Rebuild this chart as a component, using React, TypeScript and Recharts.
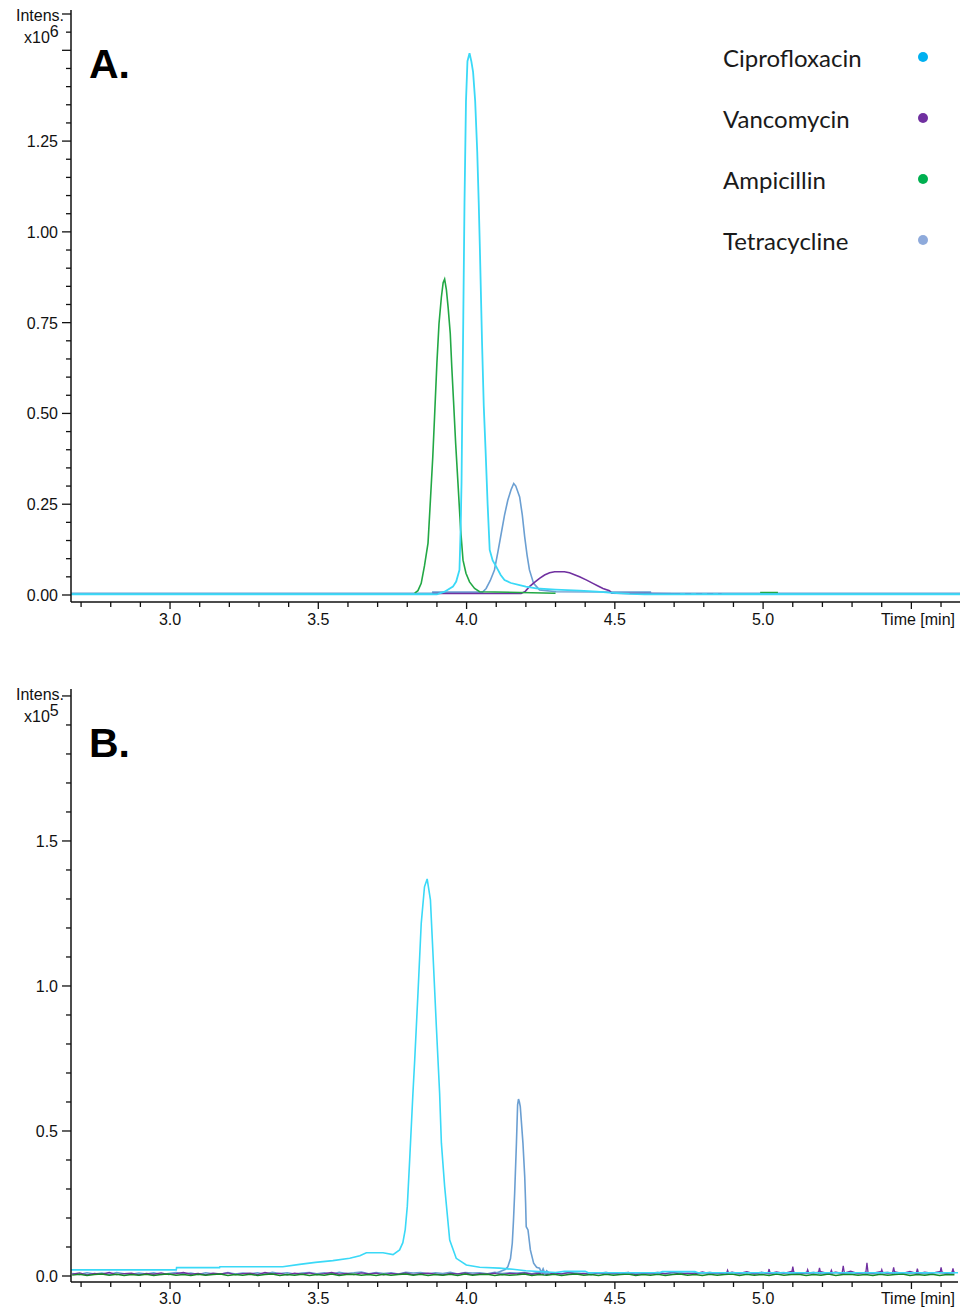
import React from 'react';
import { LineChart, Line, XAxis, YAxis, Legend } from 'recharts';

// ---------- tick values ----------
const xTicks = [2.7, 2.8, 2.9, 3.0, 3.1, 3.2, 3.3, 3.4, 3.5, 3.6, 3.7, 3.8, 3.9, 4.0, 4.1, 4.2, 4.3, 4.4, 4.5, 4.6, 4.7, 4.8, 4.9, 5.0, 5.1, 5.2, 5.3, 5.4, 5.5, 5.6];
const yTicksA = [0, 0.05, 0.1, 0.15, 0.2, 0.25, 0.3, 0.35, 0.4, 0.45, 0.5, 0.55, 0.6, 0.65, 0.7, 0.75, 0.8, 0.85, 0.9, 0.95, 1.0, 1.05, 1.1, 1.15, 1.2, 1.25, 1.3, 1.35, 1.4, 1.45, 1.5, 1.55, 1.6];
const yTicksB = [0, 0.1, 0.2, 0.3, 0.4, 0.5, 0.6, 0.7, 0.8, 0.9, 1.0, 1.1, 1.2, 1.3, 1.4, 1.5, 1.6, 1.7, 1.8, 1.9, 2.0];

// ---------- legend ----------
const legendNames = ['Ciprofloxacin', 'Vancomycin', 'Ampicillin', 'Tetracycline'];
const legendDotColors = ['#00b0f0', '#7030a0', '#00b050', '#8eaadb'];

// ---------- line colours ----------
const CIPRO = '#3ad9f7';
const VANCO = '#7030a0';
const AMPI = '#22a845';
const AMPI_DARK = '#168a26';
const TETRA = '#6b9fd2';

// ---------- Panel A (x10^6) : [time, intensity] ----------
const ciproA: [number, number][] = [
  [2.666, 0.002], [3.9, 0.002], [3.926, 0.009], [3.954, 0.023], [3.965, 0.037], [3.976, 0.069],
  [3.98, 0.18], [3.983, 0.31], [3.986, 0.55], [3.989, 0.77], [3.993, 1.08], [3.998, 1.36],
  [4.003, 1.47], [4.01, 1.492], [4.016, 1.47], [4.022, 1.44], [4.029, 1.36], [4.036, 1.22],
  [4.041, 1.08], [4.045, 0.95], [4.052, 0.7], [4.058, 0.52], [4.064, 0.4], [4.071, 0.25],
  [4.078, 0.124], [4.088, 0.095], [4.1, 0.078], [4.115, 0.055], [4.128, 0.041], [4.15, 0.033],
  [4.179, 0.027], [4.2, 0.023], [4.235, 0.018], [4.3, 0.015], [4.381, 0.012], [4.44, 0.009],
  [4.492, 0.006], [4.55, 0.003], [4.6, 0.002], [5.664, 0.002],
];
const tetraA: [number, number][] = [
  [2.666, 0.005], [3.885, 0.005], [3.886, 0.008], [4.054, 0.008], [4.066, 0.018], [4.08, 0.04],
  [4.094, 0.069], [4.106, 0.12], [4.117, 0.17], [4.128, 0.22], [4.139, 0.261], [4.15, 0.29],
  [4.159, 0.307], [4.166, 0.3], [4.179, 0.27], [4.188, 0.22], [4.196, 0.16], [4.204, 0.11],
  [4.212, 0.069], [4.226, 0.032], [4.246, 0.014], [4.302, 0.009], [4.62, 0.008], [4.621, 0.005],
  [5.664, 0.005],
];
const vancoA: [number, number][] = [
  [3.885, 0.004], [4.184, 0.004], [4.198, 0.01], [4.212, 0.023], [4.229, 0.035], [4.246, 0.046],
  [4.263, 0.055], [4.28, 0.061], [4.297, 0.064], [4.33, 0.064], [4.347, 0.061], [4.364, 0.056],
  [4.381, 0.05], [4.405, 0.041], [4.426, 0.032], [4.445, 0.024], [4.46, 0.018], [4.482, 0.012],
  [4.49, 0.005], [4.7, 0.003],
];
const vancoTailA: [number, number][] = [[4.7, 0.003], [4.86, 0.003]];
const ampiA: [number, number | null][] = [
  [3.825, 0.005], [3.836, 0.012], [3.847, 0.032], [3.858, 0.08], [3.87, 0.143], [3.878, 0.26],
  [3.886, 0.38], [3.892, 0.49], [3.9, 0.64], [3.907, 0.747], [3.915, 0.82], [3.921, 0.86],
  [3.926, 0.87], [3.932, 0.84], [3.938, 0.79], [3.945, 0.72], [3.95, 0.63], [3.956, 0.535],
  [3.963, 0.42], [3.971, 0.308], [3.98, 0.18], [3.988, 0.096], [3.998, 0.06], [4.01, 0.036],
  [4.027, 0.018], [4.044, 0.009], [4.3, 0.005], [4.31, null], [4.99, 0.007], [5.05, 0.007],
];

// ---------- Panel B (x10^5) ----------
const ciproB: [number, number][] = [
  [2.666, 0.021], [3.021, 0.021], [3.022, 0.029], [3.167, 0.029], [3.168, 0.032], [3.38, 0.032],
  [3.437, 0.04], [3.49, 0.047], [3.549, 0.053], [3.606, 0.061], [3.64, 0.07], [3.662, 0.08],
  [3.718, 0.08], [3.752, 0.074], [3.774, 0.09], [3.785, 0.115], [3.793, 0.16], [3.8, 0.24],
  [3.808, 0.4], [3.819, 0.63], [3.825, 0.745], [3.836, 0.975], [3.847, 1.216], [3.858, 1.342],
  [3.867, 1.369], [3.878, 1.297], [3.886, 1.124], [3.898, 0.86], [3.909, 0.63], [3.915, 0.458],
  [3.926, 0.308], [3.943, 0.124], [3.965, 0.061], [3.999, 0.038], [4.044, 0.03], [4.111, 0.027],
  [4.156, 0.023], [4.2, 0.018], [4.3, 0.012], [4.33, 0.016], [4.4, 0.016], [4.41, 0.011],
  [4.65, 0.011], [4.66, 0.015], [4.77, 0.015], [4.78, 0.011], [5.664, 0.011],
];
const tetraPeakB: [number, number][] = [
  [4.1, 0.01], [4.111, 0.015], [4.13, 0.022], [4.139, 0.032], [4.148, 0.06], [4.154, 0.113],
  [4.158, 0.19], [4.162, 0.285], [4.168, 0.458], [4.172, 0.59], [4.175, 0.61], [4.178, 0.6],
  [4.181, 0.584], [4.19, 0.458], [4.196, 0.342], [4.199, 0.25], [4.201, 0.17], [4.207, 0.159],
  [4.215, 0.09], [4.226, 0.044], [4.236, 0.03], [4.246, 0.027], [4.252, 0.012], [4.258, 0.025],
  [4.264, 0.008], [4.27, 0.018], [4.28, 0.008],
];
const noiseTimesB = [
  2.67, 2.695, 2.72, 2.745, 2.77, 2.795, 2.82, 2.845, 2.87, 2.895,
  2.92, 2.945, 2.97, 2.995, 3.02, 3.045, 3.07, 3.095, 3.12, 3.145,
  3.17, 3.195, 3.22, 3.245, 3.27, 3.295, 3.32, 3.345, 3.37, 3.395,
  3.42, 3.445, 3.47, 3.495, 3.52, 3.545, 3.57, 3.595, 3.62, 3.645,
  3.67, 3.695, 3.72, 3.745, 3.77, 3.795, 3.82, 3.845, 3.87, 3.895,
  3.92, 3.945, 3.97, 3.995, 4.02, 4.045, 4.07, 4.095, 4.12, 4.145,
  4.17, 4.195, 4.22, 4.245, 4.27, 4.295, 4.32, 4.345, 4.37, 4.395,
  4.42, 4.445, 4.47, 4.495, 4.52, 4.545, 4.57, 4.595, 4.62, 4.645,
  4.67, 4.695, 4.72, 4.745, 4.77, 4.795, 4.82, 4.845, 4.87, 4.895,
  4.92, 4.945, 4.97, 4.995, 5.02, 5.045, 5.07, 5.095, 5.12, 5.145,
  5.17, 5.195, 5.22, 5.245, 5.27, 5.295, 5.32, 5.345, 5.37, 5.395,
  5.42, 5.445, 5.47, 5.495, 5.52, 5.545, 5.57, 5.595, 5.62, 5.645,
];
const vancoNoiseB = [
  0.006, 0.011, 0.004, 0.009, 0.006, 0.012, 0.005, 0.008, 0.010, 0.004,
  0.009, 0.006, 0.011, 0.005, 0.008, 0.012, 0.006, 0.009, 0.004, 0.010,
  0.007, 0.011, 0.005, 0.008, 0.010, 0.005, 0.012, 0.007, 0.009, 0.004,
  0.010, 0.006, 0.011, 0.005, 0.008, 0.012, 0.006, 0.009, 0.005, 0.011,
  0.007, 0.010, 0.004, 0.009, 0.006, 0.011, 0.005, 0.008, 0.010, 0.006,
  0.004, 0.009, 0.007, 0.011, 0.005, 0.008, 0.006, 0.010, 0.005, 0.009,
  0.007, 0.011, 0.006, 0.009, 0.005, 0.010, 0.007, 0.012, 0.006, 0.009,
  0.005, 0.011, 0.007, 0.010, 0.006, 0.012, 0.005, 0.009, 0.007, 0.011,
  0.008, 0.013, 0.006, 0.010, 0.007, 0.014, 0.008, 0.011, 0.006, 0.013,
  0.009, 0.015, 0.007, 0.012, 0.008, 0.014, 0.009, 0.016, 0.007, 0.012,
  0.010, 0.015, 0.008, 0.013, 0.009, 0.017, 0.008, 0.012, 0.010, 0.015,
  0.008, 0.014, 0.009, 0.016, 0.008, 0.013, 0.010, 0.015, 0.009, 0.014,
];
const ampiNoiseB = [
  0.003, 0.006, 0.002, 0.005, 0.007, 0.003, 0.006, 0.002, 0.005, 0.003,
  0.006, 0.002, 0.005, 0.007, 0.003, 0.005, 0.002, 0.006, 0.003, 0.005,
  0.007, 0.002, 0.005, 0.003, 0.006, 0.002, 0.005, 0.007, 0.002, 0.005,
  0.003, 0.006, 0.002, 0.005, 0.003, 0.007, 0.002, 0.005, 0.006, 0.003,
  0.005, 0.002, 0.006, 0.003, 0.005, 0.007, 0.003, 0.006, 0.002, 0.005,
  0.003, 0.006, 0.002, 0.007, 0.003, 0.005, 0.006, 0.002, 0.005, 0.003,
  0.004, 0.007, 0.002, 0.005, 0.003, 0.006, 0.002, 0.005, 0.007, 0.003,
  0.005, 0.002, 0.006, 0.003, 0.005, 0.007, 0.002, 0.005, 0.003, 0.006,
  0.002, 0.005, 0.007, 0.003, 0.005, 0.002, 0.006, 0.003, 0.005, 0.007,
  0.002, 0.006, 0.003, 0.005, 0.002, 0.007, 0.003, 0.005, 0.006, 0.002,
  0.005, 0.003, 0.007, 0.002, 0.005, 0.006, 0.003, 0.005, 0.002, 0.006,
  0.003, 0.005, 0.007, 0.002, 0.005, 0.003, 0.006, 0.002, 0.005, 0.004,
];
const tetraNoiseB = [
  0.009, 0.005, 0.011, 0.007, 0.010, 0.005, 0.012, 0.008, 0.006, 0.010,
  0.007, 0.011, 0.005, 0.009, 0.012, 0.007, 0.010, 0.005, 0.011, 0.008,
  0.006, 0.012, 0.007, 0.010, 0.008, 0.011, 0.006, 0.013, 0.009, 0.011,
  0.007, 0.010, 0.012, 0.008, 0.011, 0.006, 0.013, 0.009, 0.011, 0.014,
  0.008, 0.012, 0.009, 0.011, 0.007, 0.013, 0.010, 0.012, 0.008, 0.011,
  0.009, 0.013, 0.007, 0.012, 0.010, 0.011, 0.008, 0.013, 0.009, 0.011,
  0.010, 0.012, 0.008, 0.014, 0.009, 0.011, 0.007, 0.012, 0.010, 0.008,
  0.011, 0.009, 0.013, 0.007, 0.010, 0.012, 0.008, 0.011, 0.009, 0.013,
  0.007, 0.010, 0.012, 0.008, 0.011, 0.009, 0.013, 0.008, 0.010, 0.012,
  0.007, 0.011, 0.009, 0.013, 0.008, 0.010, 0.012, 0.007, 0.011, 0.009,
  0.013, 0.008, 0.010, 0.012, 0.007, 0.011, 0.009, 0.012, 0.008, 0.010,
  0.013, 0.007, 0.011, 0.009, 0.012, 0.008, 0.010, 0.013, 0.008, 0.011,
];
const vancoSpikesB: [number, number | null][] = [
  [4.876, 0.008], [4.88, 0.020], [4.884, 0.008], [4.885, null],
  [5.016, 0.008], [5.02, 0.024], [5.024, 0.008], [5.025, null],
  [5.096, 0.009], [5.1, 0.032], [5.104, 0.009], [5.105, null],
  [5.146, 0.009], [5.15, 0.022], [5.154, 0.009], [5.155, null],
  [5.186, 0.009], [5.19, 0.028], [5.194, 0.009], [5.195, null],
  [5.226, 0.009], [5.23, 0.020], [5.234, 0.009], [5.235, null],
  [5.266, 0.009], [5.27, 0.035], [5.274, 0.009], [5.275, null],
  [5.346, 0.009], [5.35, 0.045], [5.354, 0.009], [5.355, null],
  [5.396, 0.009], [5.4, 0.022], [5.404, 0.009], [5.405, null],
  [5.436, 0.009], [5.44, 0.03], [5.444, 0.009], [5.445, null],
  [5.516, 0.009], [5.52, 0.025], [5.524, 0.009], [5.525, null],
  [5.596, 0.009], [5.6, 0.03], [5.604, 0.009], [5.605, null],
  [5.636, 0.009], [5.64, 0.026], [5.644, 0.009],
];

// ---------- helpers ----------
const toPts = (arr: [number, number | null][]) => arr.map(([t, v]) => ({ t, v }));
const gridPts = (times: number[], vals: number[]) => times.map((t, i) => ({ t, v: vals[i] }));

const FONT = '"Liberation Sans", Arial, sans-serif';
const INK = '#111';

const makeYTick = (major: number, dec: number, maxLabel: number, top: number) => (p: any) => {
  const v = p.payload.value;
  const isMajor = Math.abs(v / major - Math.round(v / major)) < 1e-6;
  const isTop = Math.abs(v - top) < 1e-6;
  const len = isMajor || isTop ? 9 : 5;
  const show = isMajor && v <= maxLabel + 1e-9;
  return (
    <g key={`yt-${v}`}>
      <line x1={p.x - len} x2={p.x} y1={p.y} y2={p.y} stroke={INK} strokeWidth={1.3} />
      {show && (
        <text x={p.x - 13} y={p.y + 6} textAnchor="end" fontSize={16} fontFamily={FONT} fill={INK}>
          {v.toFixed(dec)}
        </text>
      )}
    </g>
  );
};

const makeXTick = (labelOffset: number) => (p: any) => {
  const v = p.payload.value;
  const isMajor = Math.abs(v * 2 - Math.round(v * 2)) < 1e-6;
  const show = isMajor && v < 5.25;
  return (
    <g key={`xt-${v}`}>
      <line x1={p.x} x2={p.x} y1={p.y} y2={p.y + (isMajor ? 7 : 5)} stroke={INK} strokeWidth={1.3} />
      {show && (
        <text x={p.x} y={p.y + labelOffset} textAnchor="middle" fontSize={16} fontFamily={FONT} fill={INK}>
          {v.toFixed(1)}
        </text>
      )}
    </g>
  );
};

const LegendBox = () => (
  <div style={{ width: 230, fontFamily: 'Lato, "Open Sans", sans-serif' }}>
    {legendNames.map((n, i) => (
      <div key={n} style={{ position: 'relative', height: 61, lineHeight: '61px', fontSize: 24, color: '#1a1a1a' }}>
        <span>{n}</span>
        <span
          style={{
            position: 'absolute', left: 195, top: 25, width: 10, height: 10, borderRadius: 5,
            background: legendDotColors[i],
          }}
        />
      </div>
    ))}
  </div>
);

const axisLine = { stroke: INK, strokeWidth: 1.5 };

const Overlay = ({ label, exp, timeY }: { label: string; exp: string; timeY: number }) => (
  <svg width={962} height={640} style={{ position: 'absolute', left: 0, top: 0, pointerEvents: 'none' }}>
    <text x={64} y={21} textAnchor="end" fontSize={16} fontFamily={FONT} fill={INK}>Intens.</text>
    <text x={24} y={43} fontSize={16} fontFamily={FONT} fill={INK}>
      x10<tspan dy={-6}>{exp}</tspan>
    </text>
    <text x={89} y={78} fontSize={41} fontWeight="bold" fontFamily={FONT} fill="#000">{label}</text>
    <text x={955} y={timeY} textAnchor="end" fontSize={16} fontFamily={FONT} fill={INK}>Time [min]</text>
  </svg>
);

export default function App() {
  return (
    <div style={{ position: 'absolute', left: 0, top: 0, width: 962, height: 1310, background: '#fff' }}>
      {/* Panel A */}
      <div style={{ position: 'absolute', left: 0, top: 0, width: 962, height: 634, overflow: 'hidden' }}>
        <LineChart width={962} height={634} margin={{ top: 10, right: 2, bottom: 4, left: 0 }}>
          <XAxis
            dataKey="t" type="number" domain={[2.666, 5.664]} allowDataOverflow ticks={xTicks} interval={0}
            tickSize={0} tickMargin={0} tickLine={false} axisLine={axisLine} height={28} tick={makeXTick(23)}
          />
          <XAxis xAxisId="top" orientation="top" type="number" domain={[0, 1]} height={0} tick={false} tickLine={false} axisLine={axisLine} />
          <YAxis
            type="number" domain={[-0.0193, 1.611]} allowDataOverflow ticks={yTicksA} interval={0} width={71}
            tickSize={0} tickMargin={0} tickLine={false} axisLine={axisLine} tick={makeYTick(0.25, 2, 1.25, 1.6)}
          />
          <YAxis yAxisId="right" orientation="right" width={0} tick={false} tickLine={false} axisLine={axisLine} />
          <Legend
            layout="vertical" align="center" verticalAlign="middle"
            wrapperStyle={{ left: 723, top: 27, width: 230 }}
            content={() => <LegendBox />}
          />
          <Line data={toPts(tetraA)} dataKey="v" name="Tetracycline" stroke={TETRA} strokeWidth={1.6} dot={false} isAnimationActive={false} />
          <Line data={toPts(vancoA)} dataKey="v" name="Vancomycin" stroke={VANCO} strokeWidth={1.6} dot={false} isAnimationActive={false} />
          <Line data={toPts(vancoTailA)} dataKey="v" name="Vancomycin tail" legendType="none" stroke={VANCO} strokeWidth={1.6} strokeDasharray="6 5" dot={false} isAnimationActive={false} />
          <Line data={toPts(ampiA)} dataKey="v" name="Ampicillin" stroke={AMPI} strokeWidth={1.6} dot={false} connectNulls={false} isAnimationActive={false} />
          <Line data={toPts(ciproA)} dataKey="v" name="Ciprofloxacin" stroke={CIPRO} strokeWidth={1.8} dot={false} isAnimationActive={false} />
        </LineChart>
        <Overlay label="A." exp="6" timeY={625} />
      </div>

      {/* Panel B */}
      <div style={{ position: 'absolute', left: 0, top: 679, width: 962, height: 631, overflow: 'hidden' }}>
        <LineChart width={962} height={631} margin={{ top: 10, right: 4, bottom: 0, left: 0 }}>
          <XAxis
            dataKey="t" type="number" domain={[2.666, 5.657]} allowDataOverflow ticks={xTicks} interval={0}
            tickSize={0} tickMargin={0} tickLine={false} axisLine={axisLine} height={28} tick={makeXTick(22)}
          />
          <XAxis xAxisId="top" orientation="top" type="number" domain={[0, 1]} height={0} tick={false} tickLine={false} axisLine={axisLine} />
          <YAxis
            type="number" domain={[-0.0207, 2.024]} allowDataOverflow ticks={yTicksB} interval={0} width={71}
            tickSize={0} tickMargin={0} tickLine={false} axisLine={axisLine} tick={makeYTick(0.5, 1, 1.5, 2.0)}
          />
          <YAxis yAxisId="right" orientation="right" width={0} tick={false} tickLine={false} axisLine={axisLine} />
          <Line data={gridPts(noiseTimesB, tetraNoiseB)} dataKey="v" stroke={TETRA} strokeWidth={1.5} dot={false} isAnimationActive={false} />
          <Line data={gridPts(noiseTimesB, vancoNoiseB)} dataKey="v" stroke={VANCO} strokeWidth={1.3} dot={false} isAnimationActive={false} />
          <Line data={toPts(vancoSpikesB)} dataKey="v" stroke={VANCO} strokeWidth={1.3} dot={false} connectNulls={false} isAnimationActive={false} />
          <Line data={gridPts(noiseTimesB, ampiNoiseB)} dataKey="v" stroke={AMPI_DARK} strokeWidth={1.5} dot={false} isAnimationActive={false} />
          <Line data={toPts(tetraPeakB)} dataKey="v" stroke={TETRA} strokeWidth={1.6} dot={false} isAnimationActive={false} />
          <Line data={toPts(ciproB)} dataKey="v" stroke={CIPRO} strokeWidth={1.6} dot={false} isAnimationActive={false} />
        </LineChart>
        <Overlay label="B." exp="5" timeY={625} />
      </div>
    </div>
  );
}
